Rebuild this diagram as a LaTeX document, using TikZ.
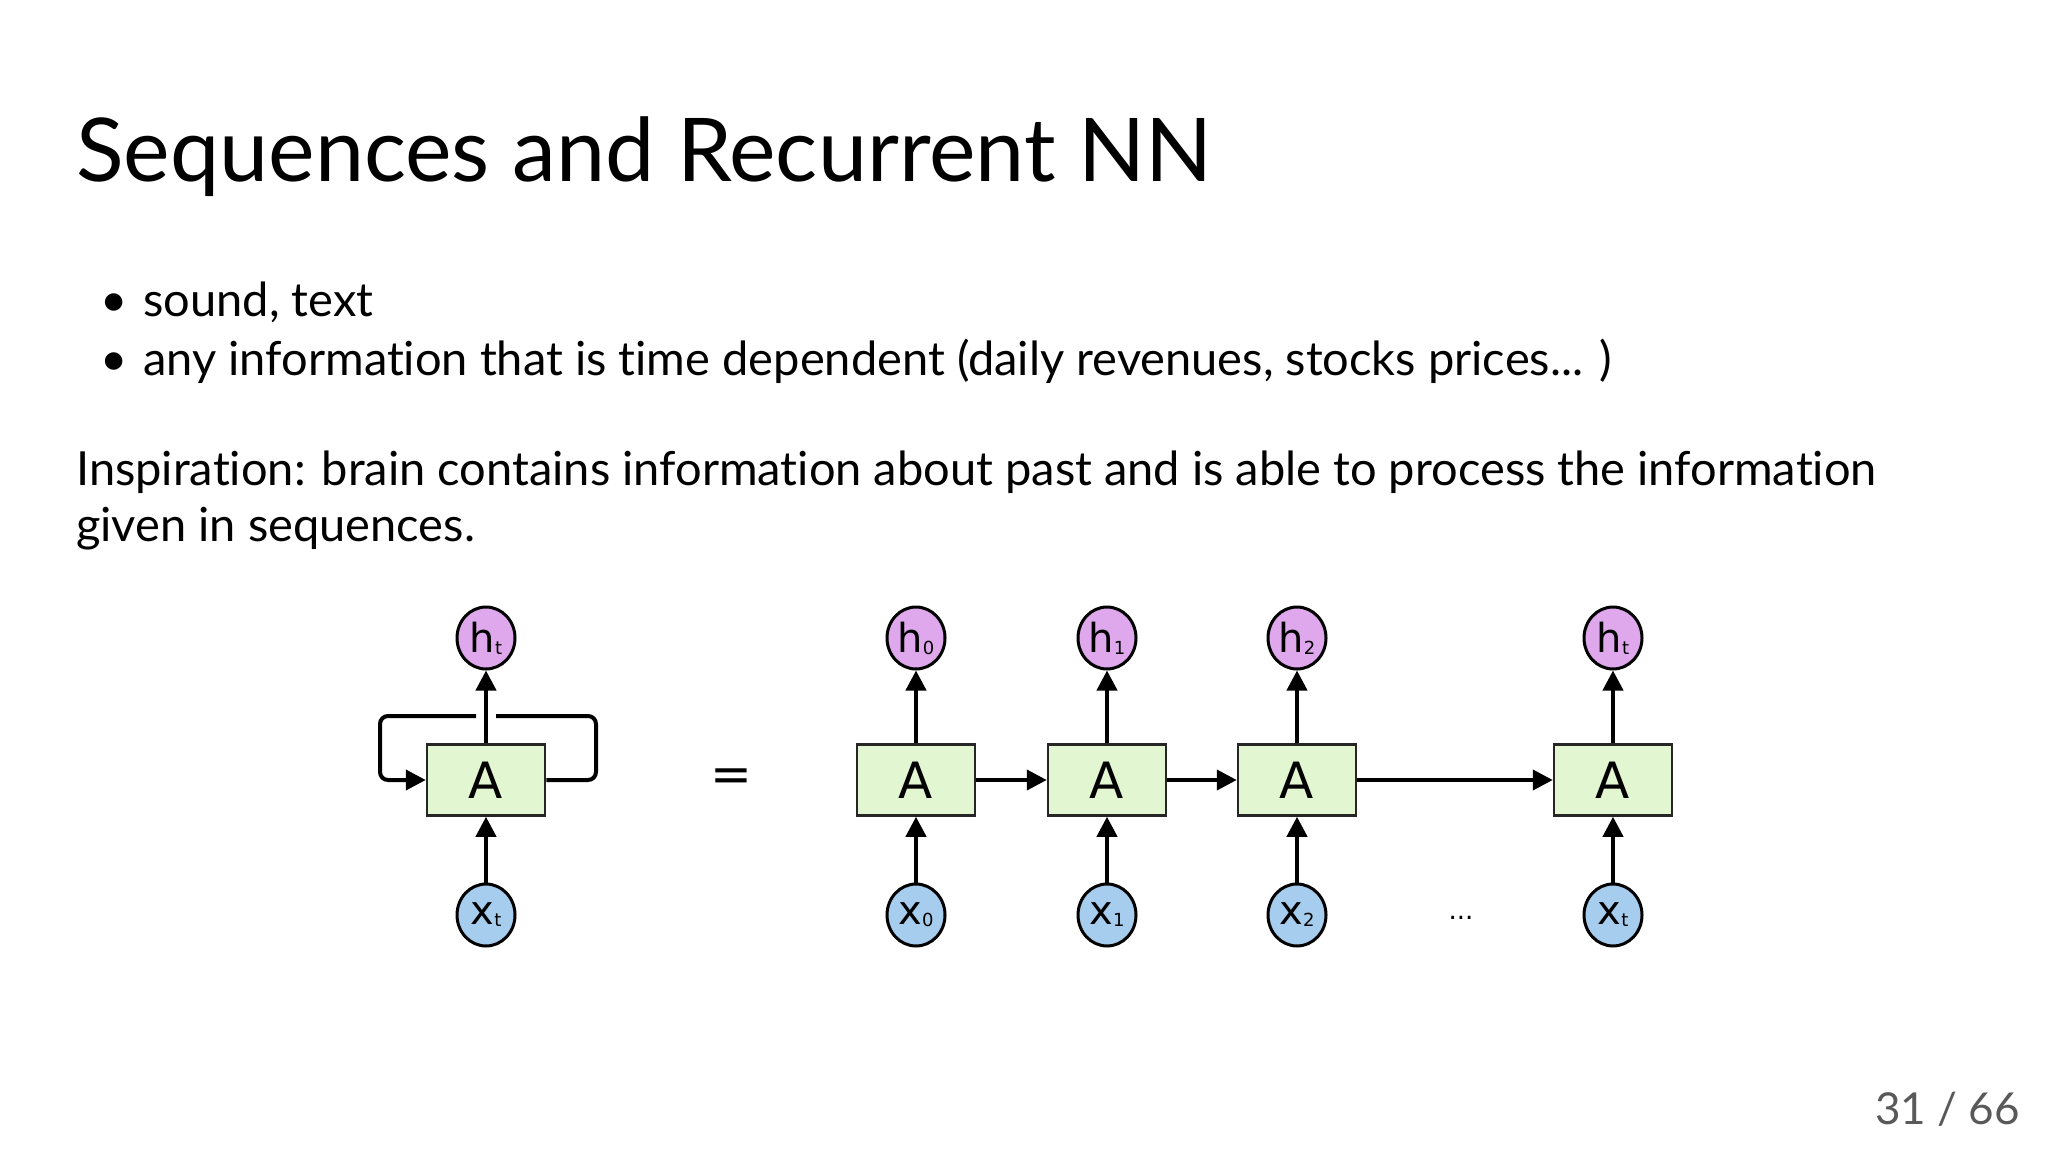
\documentclass[tikz,border=0pt]{standalone}
\usepackage{fontspec}
\setmainfont{Lato}[Ligatures={NoCommon,NoRare,NoContextual}]
\newfontfamily\dfont{DejaVu Sans}
\usetikzlibrary{arrows.meta,shapes.geometric}
\definecolor{hcol}{HTML}{DFA8EC}
\definecolor{xcol}{HTML}{A6CDEE}
\definecolor{acol}{HTML}{E2F6D2}
\begin{document}
\begin{tikzpicture}[x=1pt,y=-1pt,
  box/.style={draw=black!85,line width=2.5pt,fill=acol,minimum width=118pt,minimum height=71pt,inner sep=0pt,font=\dfont\fontsize{50}{50}\selectfont},
  hc/.style={ellipse,draw=black,line width=3pt,fill=hcol,minimum width=58pt,minimum height=62pt,inner sep=0pt,font=\dfont\fontsize{40}{40}\selectfont},
  xc/.style={hc,fill=xcol},
  arr/.style={line width=4pt,-{Triangle[length=20pt,width=20pt]}},
  txt/.style={anchor=base west,inner sep=0pt,font=\fontsize{47}{47}\selectfont}]
\useasboundingbox (0,0) rectangle (2048,1153);
\node[anchor=base west,inner sep=0pt,font=\fontsize{88}{88}\selectfont] (title) at (76,182) {Sequences and Recurrent NN};
\node[txt] (b1) at (100,316) {\textbullet\hspace{16pt}sound, text};
\node[txt] (b2) at (100,375) {\textbullet\hspace{16pt}any information that is time dependent (daily revenues, stocks prices... )};
\node[txt] (i1) at (76,485) {Inspiration: brain contains information about past and is able to process the information};
\node[txt] (i2) at (76,541) {given in sequences.};
% left folded
\node[box] (A) at (486,780) {A};
\node[hc] (ht) at (486,638) {h\raisebox{-2pt}{\fontsize{18}{18}\selectfont t}};
\node[xc] (xt) at (486,915) {x\raisebox{-2pt}{\fontsize{18}{18}\selectfont t}};
\draw[arr] (xt) -- (A);
\draw[arr] (A) -- (ht);
\coordinate (lt) at (380,716); \coordinate (rt) at (596,716);
\draw[line width=4pt,rounded corners=8pt] (A.east) -- (rt|-A.east) -- (rt) -- (496,716);
\draw[line width=4pt,rounded corners=8pt,-{Triangle[length=20pt,width=20pt]}] (476,716) -- (lt) -- (lt|-A.west) -- (A.west);
\node[inner sep=0pt,font=\dfont\fontsize{50}{50}\selectfont] (eq) at (731,780) {=};
% unrolled
\foreach \i/\x/\s in {0/916/0,1/1107/1,2/1297/2,3/1613/t}{
  \node[box] (B\i) at (\x,780) {A};
  \node[hc] (h\i) at (\x,638) {h\raisebox{-2pt}{\fontsize{18}{18}\selectfont \s}};
  \node[xc] (x\i) at (\x,915) {x\raisebox{-2pt}{\fontsize{18}{18}\selectfont \s}};
  \draw[arr] (x\i) -- (B\i);
  \draw[arr] (B\i) -- (h\i);
}
\draw[arr] (B0) -- (B1);
\draw[arr] (B1) -- (B2);
\draw[arr] (B2) -- (B3);
\node[font=\dfont\fontsize{26}{26}\selectfont] (dots) at (1461,918) {...};
\node[anchor=base east,inner sep=0pt,text=black!65,font=\fontsize{44}{44}\selectfont] (pg) at (2020,1124) {31 / 66};
\end{tikzpicture}
\end{document}
